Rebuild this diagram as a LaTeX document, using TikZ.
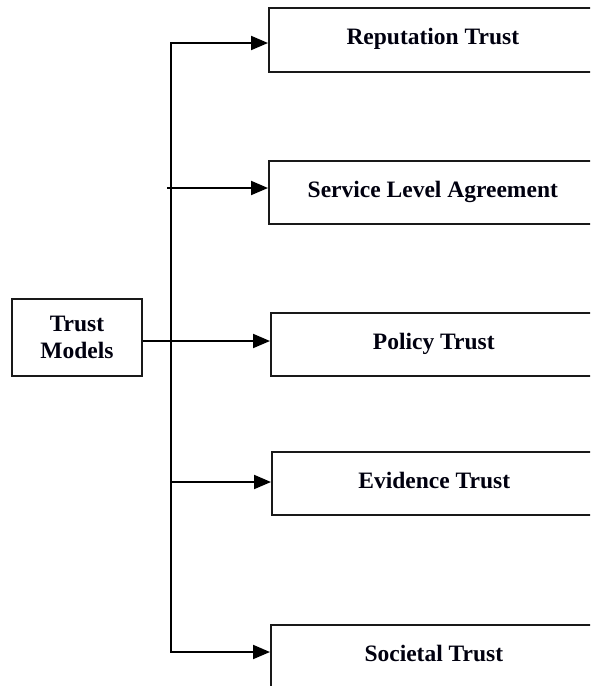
\documentclass[tikz,border=0pt]{standalone}
\usepackage{fontspec}
\setmainfont{Liberation Serif}
\usetikzlibrary{arrows.meta}
\begin{document}
\begin{tikzpicture}[x=1pt,y=-1pt,
  box/.style={draw=black!90, line width=1.6pt, rectangle, inner sep=0pt, anchor=north west,
    font=\fontsize{23.5}{27}\selectfont\bfseries, text=black!90!blue!60!black},
  tbox/.style={box, align=center, anchor=center},
  arr/.style={line width=2pt, -{Triangle[length=17pt,width=14pt]}},
  thinline/.style={line width=1.1pt},
  line join=miter]
\useasboundingbox (0,0) rectangle (590,686);
\clip (0,0) rectangle (590,686);
\fill[white] (0,0) rectangle (590,686);
% left box
\node[tbox, minimum width=130pt, minimum height=77pt] (tm) at (77,337.5) {Trust\\Models};
% right boxes
\node[box, minimum width=328pt, minimum height=64pt] (rep) at (268,7) {\raisebox{6pt}{Reputation Trust}};
\node[box, minimum width=328pt, minimum height=63pt] (sla) at (268,160) {\raisebox{3pt}{Service Level Agreement}};
\node[box, minimum width=326pt, minimum height=63pt] (pol) at (270,312) {\raisebox{3pt}{Policy Trust}};
\node[box, minimum width=325pt, minimum height=63pt] (evi) at (271,451) {\raisebox{5pt}{Evidence Trust}};
\node[box, minimum width=326pt, minimum height=63pt] (soc) at (270,624) {\raisebox{5pt}{Societal Trust}};
% junction coordinates
\coordinate (jtop) at (171,43);
\coordinate (jbot) at (171,652);
\coordinate (j2) at (167,188);
\coordinate (j3) at (171,341);
\coordinate (j4) at (171,482);
% connectors
\draw[line width=2pt, {Triangle[length=17pt,width=14pt]}-{Triangle[length=17pt,width=14pt]}]
  (rep.west |- jtop) -- (jtop) -- (jbot) -- (soc.west |- jbot);
\draw[arr] (j2) -- (sla.west |- j2);
\draw[thinline] (tm.east |- j3) -- (j3);
\draw[arr] (j3) -- (pol.west |- j3);
\draw[arr] (j4) -- (evi.west |- j4);
\end{tikzpicture}
\end{document}
